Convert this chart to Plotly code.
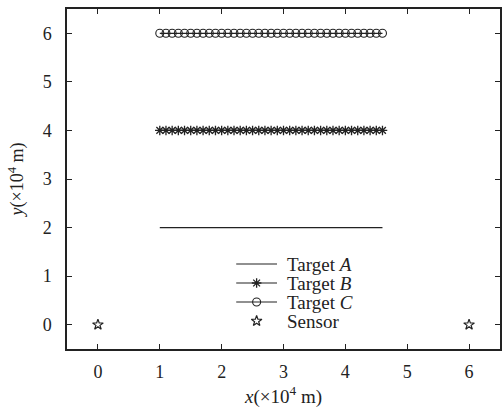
import plotly.graph_objects as go

# Data (x, y in units of 1e4 m)
target_x = [1.0, 1.1, 1.2, 1.3, 1.4, 1.5, 1.6, 1.7, 1.8, 1.9,
            2.0, 2.1, 2.2, 2.3, 2.4, 2.5, 2.6, 2.7, 2.8, 2.9,
            3.0, 3.1, 3.2, 3.3, 3.4, 3.5, 3.6, 3.7, 3.8, 3.9,
            4.0, 4.1, 4.2, 4.3, 4.4, 4.5, 4.6]
target_a_y = [2.0] * len(target_x)
target_b_y = [4.0] * len(target_x)
target_c_y = [6.0] * len(target_x)
sensor_x = [0.0, 6.0]
sensor_y = [0.0, 0.0]
tick_vals = [0, 1, 2, 3, 4, 5, 6]
legend_labels = ["Target <i>A</i>", "Target <i>B</i>", "Target <i>C</i>", "Sensor"]

FONT = "Liberation Serif"
BLACK = "#222222"

styles = {
    "A": dict(mode="lines", line=dict(color=BLACK, width=1.2)),
    "B": dict(mode="lines+markers", line=dict(color=BLACK, width=1.2),
              marker=dict(symbol="asterisk-open", size=8, color=BLACK,
                          line=dict(color=BLACK, width=1.3))),
    "C": dict(mode="lines+markers", line=dict(color=BLACK, width=1.2),
              marker=dict(symbol="circle-open", size=8, color=BLACK,
                          line=dict(color=BLACK, width=1.1))),
    "S": dict(mode="markers",
              marker=dict(symbol="star-open", size=8, color=BLACK,
                          line=dict(color=BLACK, width=1.2))),
}

fig = go.Figure()
fig.add_trace(go.Scatter(x=target_x, y=target_a_y, name=legend_labels[0], **styles["A"]))
fig.add_trace(go.Scatter(x=target_x, y=target_b_y, name=legend_labels[1], **styles["B"]))
fig.add_trace(go.Scatter(x=target_x, y=target_c_y, name=legend_labels[2], **styles["C"]))
fig.add_trace(go.Scatter(x=sensor_x, y=sensor_y, name=legend_labels[3], **styles["S"]))

# ---- hand-built legend on a pixel-unit overlay axis (tight row spacing) ----
PL, PR, PT, PB = 67, 502, 9, 349          # plot area in page pixels
LEG_X0, LEG_X1, LEG_TX = 237, 278, 286     # sample line start/end, text start
LEG_ROWS = [264, 283, 302, 321]            # row centres
mid = (LEG_X0 + LEG_X1) / 2
for key, row, label in zip(["A", "B", "C", "S"], LEG_ROWS, legend_labels):
    st = styles[key]
    if st["mode"] != "markers":
        fig.add_trace(go.Scatter(x=[LEG_X0, LEG_X1], y=[row, row], mode="lines",
                                 line=st["line"], xaxis="x2", yaxis="y2",
                                 showlegend=False, hoverinfo="skip"))
    if "marker" in st:
        fig.add_trace(go.Scatter(x=[mid], y=[row], mode="markers",
                                 marker=st["marker"], xaxis="x2", yaxis="y2",
                                 showlegend=False, hoverinfo="skip"))
    fig.add_annotation(x=LEG_TX, y=row, xref="x2", yref="y2", text=label,
                       showarrow=False, xanchor="left", yanchor="middle",
                       font=dict(family=FONT, size=19, color=BLACK))

axis_common = dict(
    showgrid=False, zeroline=False,
    showline=True, linecolor=BLACK, linewidth=1.5, mirror="ticks",
    ticks="inside", ticklen=5, tickwidth=1.2, tickcolor=BLACK,
    tickfont=dict(family=FONT, size=18, color=BLACK),
    tickvals=tick_vals,
)

fig.update_layout(
    width=503, height=410,
    margin=dict(l=67, r=1, t=9, b=61),
    plot_bgcolor="white", paper_bgcolor="white",
    font=dict(family=FONT, size=17, color=BLACK),
    showlegend=False,
    xaxis=dict(range=[-0.5, 6.5],
               title=dict(text="<i>x</i>(×10<sup>4</sup> m)", standoff=8,
                          font=dict(family=FONT, size=19, color=BLACK)),
               ticklabelstandoff=6,
               **axis_common),
    yaxis=dict(range=[-0.5, 6.5],
               title=dict(text="<i>y</i>(×10<sup>4</sup> m)", standoff=14,
                          font=dict(family=FONT, size=18, color=BLACK)),
               ticklabelstandoff=10,
               **axis_common),
    xaxis2=dict(range=[PL, PR], overlaying="x", visible=False, fixedrange=True),
    yaxis2=dict(range=[PB, PT], overlaying="y", visible=False, fixedrange=True),
)

fig.write_html("out.html")
